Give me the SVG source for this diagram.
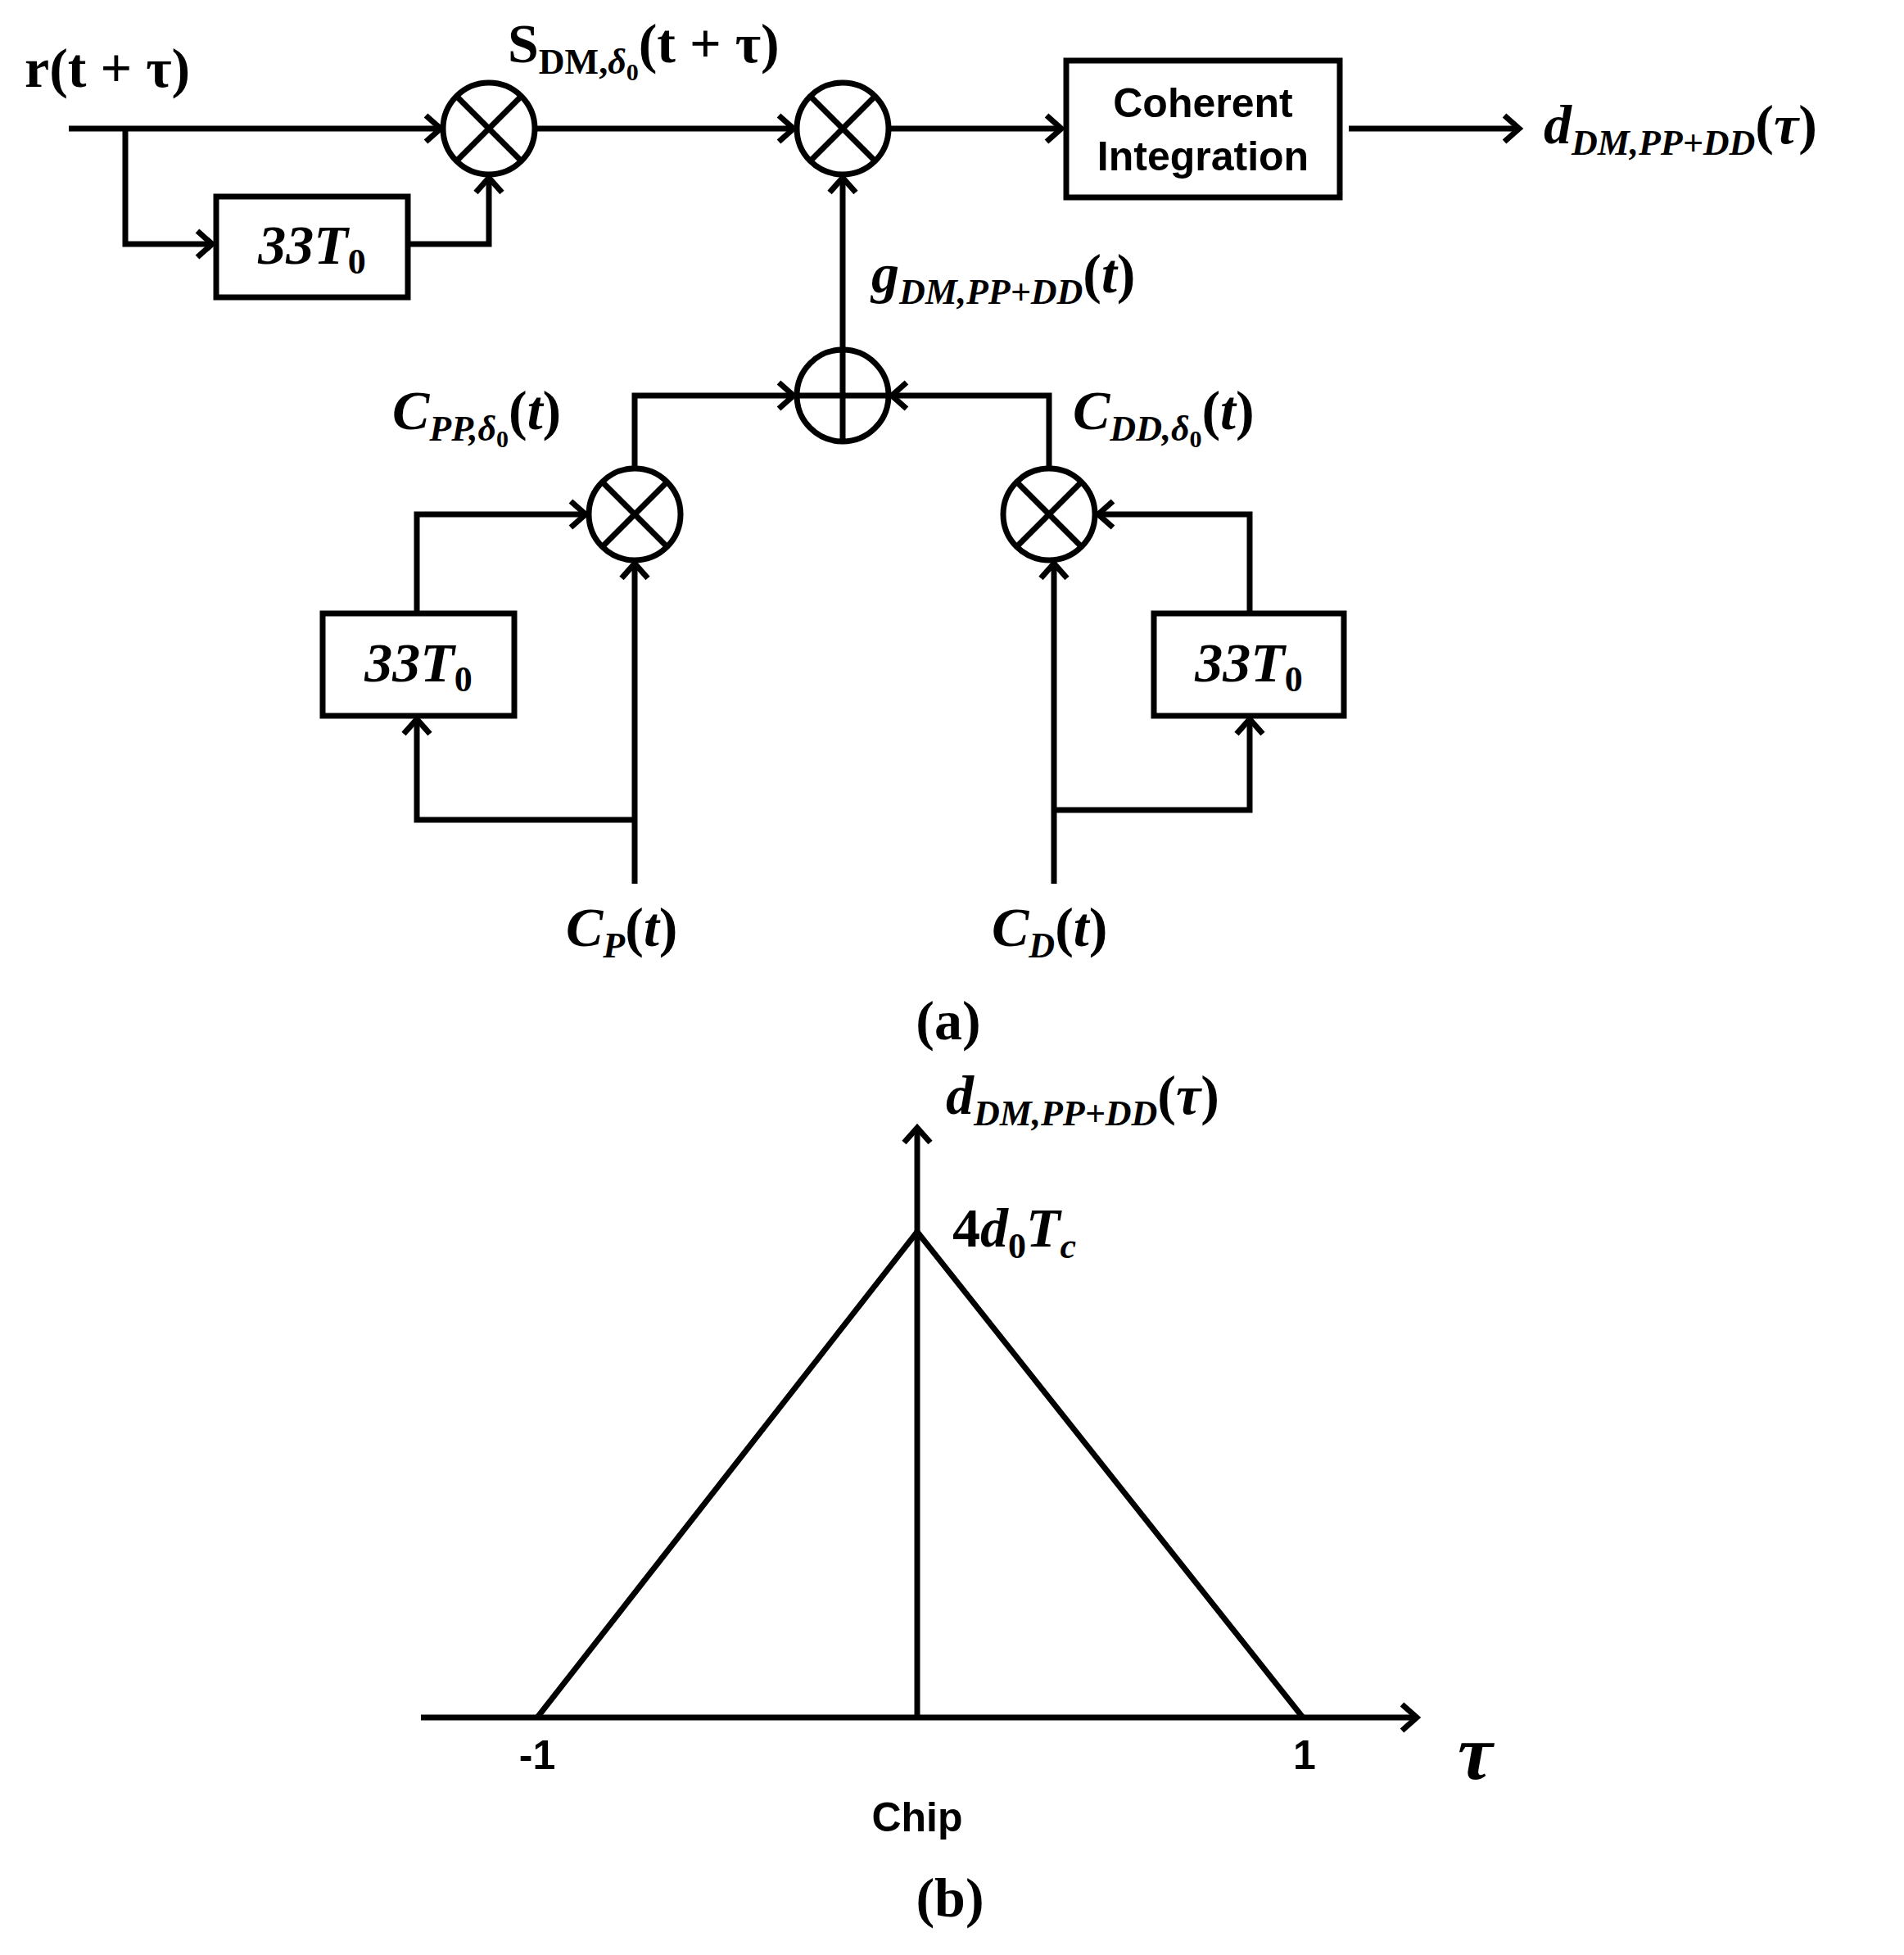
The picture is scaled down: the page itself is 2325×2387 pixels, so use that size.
<svg xmlns="http://www.w3.org/2000/svg" width="2325" height="2387" viewBox="0 0 2325 2387">
<style>
.w{fill:none;stroke:#000;stroke-width:7}
.b{fill:#fff;stroke:#000;stroke-width:7}
.m{font-family:"Liberation Serif",serif;font-weight:bold;font-style:italic;font-size:68px}
.r{font-family:"Liberation Serif",serif;font-weight:bold;font-size:68px}
.s{font-family:"Liberation Sans",sans-serif;font-weight:bold;font-size:50px}
.u{font-size:44px}
.n{font-style:normal}
</style>
<defs>
<marker id="a" markerUnits="userSpaceOnUse" markerWidth="44" markerHeight="44" refX="32" refY="22" orient="auto">
<path d="M14,6 L32,22 L14,38" fill="none" stroke="#000" stroke-width="7"/>
</marker>
</defs>
<rect width="2325" height="2387" fill="#fff"/>
<g id="connectors">
<path class="w" d="M84,157 H538" marker-end="url(#a)"/>
<path class="w" d="M153,157 V298 H259" marker-end="url(#a)"/>
<path class="w" d="M498,298 H597 V217" marker-end="url(#a)"/>
<path class="w" d="M653,157 H969" marker-end="url(#a)"/>
<path class="w" d="M1085,157 H1296" marker-end="url(#a)"/>
<path class="w" d="M1647,157 H1855" marker-end="url(#a)"/>
<path class="w" d="M1029,427 V217" marker-end="url(#a)"/>
<path class="w" d="M775,572 V483 H969" marker-end="url(#a)"/>
<path class="w" d="M1281,572 V483 H1089" marker-end="url(#a)"/>
<path class="w" d="M509,749 V628 H715" marker-end="url(#a)"/>
<path class="w" d="M775,1079 V688" marker-end="url(#a)"/>
<path class="w" d="M775,1001 H509 V878" marker-end="url(#a)"/>
<path class="w" d="M1526,749 V628 H1341" marker-end="url(#a)"/>
<path class="w" d="M1287,1079 V688" marker-end="url(#a)"/>
<path class="w" d="M1287,989 H1526 V878" marker-end="url(#a)"/>
</g>
<g id="mult1"><circle class="b" cx="597" cy="157" r="56"/><path class="w" d="M557,117 L637,197 M637,117 L557,197"/></g>
<g id="mult2"><circle class="b" cx="1029" cy="157" r="56"/><path class="w" d="M989,117 L1069,197 M1069,117 L989,197"/></g>
<g id="mult3"><circle class="b" cx="775" cy="628" r="56"/><path class="w" d="M735,588 L815,668 M815,588 L735,668"/></g>
<g id="mult4"><circle class="b" cx="1281" cy="628" r="56"/><path class="w" d="M1241,588 L1321,668 M1321,588 L1241,668"/></g>
<g id="sum"><circle class="b" cx="1029" cy="483" r="56"/><path class="w" d="M973,483 H1085 M1029,427 V539"/></g>
<g id="delay1"><rect class="b" x="264" y="240" width="234" height="123"/><text class="m" x="381" y="322" text-anchor="middle">33T<tspan class="u n" dy="12">0</tspan></text></g>
<g id="delay2"><rect class="b" x="394" y="749" width="234" height="125"/><text class="m" x="511" y="832" text-anchor="middle">33T<tspan class="u n" dy="12">0</tspan></text></g>
<g id="delay3"><rect class="b" x="1409" y="749" width="232" height="125"/><text class="m" x="1525" y="832" text-anchor="middle">33T<tspan class="u n" dy="12">0</tspan></text></g>
<g id="coherent"><rect class="b" x="1302" y="74" width="334" height="167"/><text class="s" x="1469" y="143" text-anchor="middle">Coherent</text><text class="s" x="1469" y="208" text-anchor="middle">Integration</text></g>
<g id="labels">
<text class="r" x="30" y="106">r(t + τ)</text>
<text class="r" x="620" y="76">S<tspan class="u" dy="14">DM,</tspan><tspan style="font-size:44px;font-style:italic">δ</tspan><tspan style="font-size:30px" dy="8">0</tspan><tspan dy="-22">(t + τ)</tspan></text>
<text class="m" x="1885" y="175">d<tspan class="u" dy="14">DM,PP+DD</tspan><tspan class="n" dy="-14">(</tspan>τ<tspan class="n">)</tspan></text>
<text class="m" x="1064" y="357">g<tspan class="u" dy="14">DM,PP+DD</tspan><tspan class="n" dy="-14">(</tspan>t<tspan class="n">)</tspan></text>
<text class="m" x="479" y="524">C<tspan class="u" dy="14">PP,δ</tspan><tspan class="n" style="font-size:30px" dy="8">0</tspan><tspan class="n" dy="-22">(</tspan>t<tspan class="n">)</tspan></text>
<text class="m" x="1310" y="524">C<tspan class="u" dy="14">DD,δ</tspan><tspan class="n" style="font-size:30px" dy="8">0</tspan><tspan class="n" dy="-22">(</tspan>t<tspan class="n">)</tspan></text>
<text class="m" x="691" y="1155">C<tspan class="u" dy="14">P</tspan><tspan class="n" dy="-14">(</tspan>t<tspan class="n">)</tspan></text>
<text class="m" x="1211" y="1155">C<tspan class="u" dy="14">D</tspan><tspan class="n" dy="-14">(</tspan>t<tspan class="n">)</tspan></text>
<text class="r" x="1158" y="1269" text-anchor="middle">(a)</text>
</g>
<g id="graph">
<path class="w" d="M514,2097 H1730" marker-end="url(#a)"/>
<path class="w" d="M1120,2097 V1377" marker-end="url(#a)"/>
<path class="w" d="M656,2097 L1120,1504 L1591,2097"/>
<text class="m" x="1155" y="1360">d<tspan class="u" dy="14">DM,PP+DD</tspan><tspan class="n" dy="-14">(</tspan>τ<tspan class="n">)</tspan></text>
<text class="m" x="1163" y="1522"><tspan class="n">4</tspan>d<tspan class="u n" dy="14">0</tspan><tspan dy="-14">T</tspan><tspan class="u" dy="14">c</tspan></text>
<text class="s" x="656" y="2160" text-anchor="middle">-1</text>
<text class="s" x="1593" y="2160" text-anchor="middle">1</text>
<text class="m" x="1780" y="2172" style="font-size:96px">τ</text>
<text class="s" x="1120" y="2236" text-anchor="middle">Chip</text>
<text class="r" x="1160" y="2340" text-anchor="middle">(b)</text>
</g>
</svg>
